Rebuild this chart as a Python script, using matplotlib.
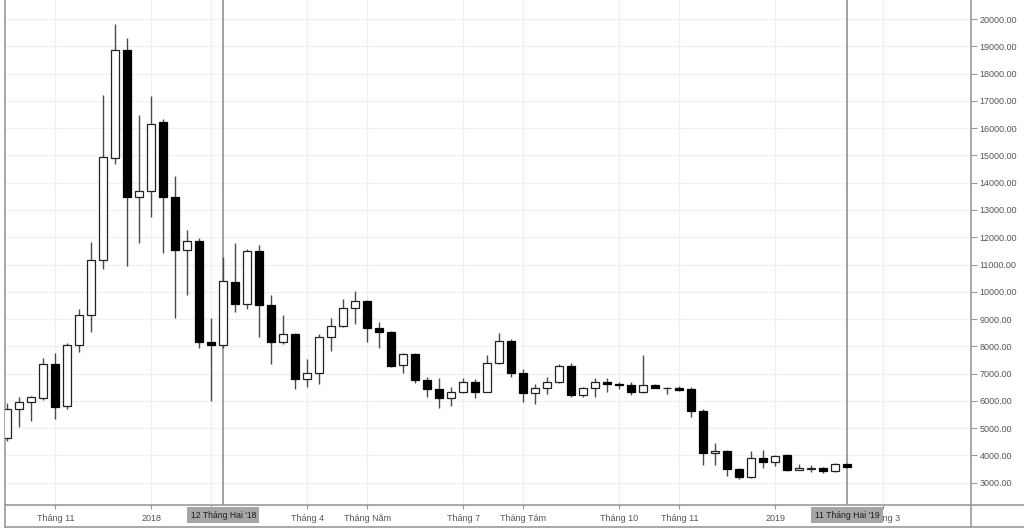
import numpy as np
import pandas as pd
import matplotlib
matplotlib.use("Agg")
import matplotlib.pyplot as plt
import matplotlib.dates as mdates
import matplotlib.transforms as mtransforms
from matplotlib.lines import Line2D

plt.rcParams['font.family'] = ['Liberation Sans', 'DejaVu Sans']

# weekly candles (Monday), BTC Oct 2017 - Feb 2019
weeks = pd.date_range('2017-10-09', periods=71, freq='7D')

opens = np.array([4630, 5690, 5950, 6120, 7340, 5820, 8040, 9140, 11170, 14890,
                  18860, 13490, 13690, 16210, 13460, 11520, 11850, 8170, 8040, 10360,
                  9560, 11500, 9500, 8170, 8460, 6800, 7010, 8350, 8760, 9400,
                  9660, 8680, 8510, 7320, 7710, 6770, 6430, 6120, 6340, 6700,
                  6340, 7380, 8210, 7010, 6280, 6460, 6680, 7290, 6220, 6460,
                  6700, 6620, 6590, 6340, 6590, 6470, 6480, 6450, 5640, 4080,
                  4160, 3500, 3200, 3920, 3770, 4000, 3470, 3520, 3530, 3440,
                  3680])
highs = np.array([5910, 6150, 6180, 7560, 7770, 8130, 9360, 11810, 17210, 19820,
                  19290, 16480, 17180, 16330, 14260, 12270, 11960, 9050, 11290, 11780,
                  11570, 11720, 9880, 9150, 8500, 7530, 8440, 9030, 9740, 10030,
                  9700, 8880, 8560, 7750, 7750, 6890, 6850, 6500, 6830, 6790,
                  7680, 8500, 8260, 7160, 6610, 6870, 7340, 7400, 6520, 6830,
                  6830, 6700, 6700, 7680, 6620, 6500, 6550, 6500, 5700, 4450,
                  4200, 3540, 4160, 4200, 4020, 4050, 3680, 3650, 3560, 3710,
                  3700])
lows = np.array([4540, 5050, 5270, 6030, 5320, 5690, 7800, 8540, 10820, 14670,
                 10960, 11780, 12750, 11410, 9030, 9880, 7950, 6000, 7950, 9270,
                 9360, 8330, 7340, 8090, 6440, 6500, 6620, 7840, 8700, 8820,
                 8170, 7930, 7250, 7030, 6650, 6130, 5750, 5800, 6280, 6100,
                 6320, 7350, 6890, 5970, 5890, 6250, 6650, 6130, 6150, 6130,
                 6340, 6440, 6220, 6300, 6460, 6250, 6380, 5420, 3650, 3650,
                 3250, 3140, 3190, 3550, 3620, 3440, 3450, 3410, 3370, 3380,
                 3580])
closes = np.array([5690, 5950, 6140, 7340, 5790, 8040, 9140, 11170, 14950, 18860,
                   13490, 13690, 16150, 13460, 11520, 11850, 8170, 8040, 10380, 9560,
                   11500, 9500, 8170, 8450, 6800, 7010, 8350, 8760, 9400, 9660,
                   8680, 8510, 7290, 7710, 6770, 6430, 6120, 6340, 6700, 6340,
                   7380, 8210, 7010, 6300, 6460, 6680, 7290, 6220, 6460, 6700,
                   6630, 6580, 6340, 6590, 6480, 6490, 6410, 5640, 4080, 4160,
                   3500, 3200, 3920, 3770, 3970, 3470, 3530, 3530, 3440, 3680,
                   3590])

tick_dates = ['2017-11-06', '2018-01-01', '2018-02-05', '2018-04-02', '2018-05-07',
              '2018-07-02', '2018-08-06', '2018-10-01', '2018-11-05', '2018-12-31',
              '2019-03-04']
tick_labels = ['Tháng 11', '2018', '', 'Tháng 4', 'Tháng Năm', 'Tháng 7',
               'Tháng Tám', 'Tháng 10', 'Tháng 11', '2019', 'Tháng 3']
y_ticks = list(range(3000, 20001, 1000))

marker_dates = ['2018-02-12', '2019-02-11']
marker_labels = ["12 Tháng Hai '18", "11 Tháng Hai '19"]

x = mdates.date2num(weeks)
up = closes >= opens

fig = plt.figure(figsize=(10.24, 5.29), dpi=100)
ax = fig.add_axes([5/1024, 24/529, 966/1024, 505/529])

ax.vlines(x, lows, highs, color='#4a4a4a', lw=1, zorder=2)
ax.bar(x[up], (closes - opens)[up], bottom=opens[up], width=4.5,
       color='white', edgecolor='#222222', lw=0.9, zorder=3)
ax.bar(x[~up], (closes - opens)[~up], bottom=opens[~up], width=4.5,
       color='black', edgecolor='black', lw=0.9, zorder=3)

ax.set_xlim(x[0] - 1.35, x[0] + 562.2)
ax.set_ylim(2183, 20697)

ax.set_xticks(mdates.date2num(pd.to_datetime(tick_dates)))
ax.set_xticklabels(tick_labels)
ax.yaxis.tick_right()
ax.set_yticks(y_ticks)
ax.set_yticklabels([f"{v:.2f}" for v in y_ticks])
ax.tick_params(axis='x', length=3, color='#999999', labelsize=6.5,
               labelcolor='#555555', pad=3.5)
ax.tick_params(axis='y', length=4, color='#999999', labelsize=6.5,
               labelcolor='#555555', pad=2)

ax.grid(color='#edf0f5', lw=0.9)
ax.set_axisbelow(True)
ax.spines['top'].set_visible(False)
for s in ['left', 'right', 'bottom']:
    ax.spines[s].set_color('#999999')
    ax.spines[s].set_linewidth(1.2)

# frame pieces outside the plot area
lc = '#999999'
fig.add_artist(Line2D([971/1024, 1], [24/529, 24/529], color=lc, lw=1.2))
fig.add_artist(Line2D([5/1024, 1], [2.5/529, 2.5/529], color=lc, lw=1.2))
fig.add_artist(Line2D([5/1024, 5/1024], [2.5/529, 24/529], color=lc, lw=1.2))
fig.add_artist(Line2D([971/1024, 971/1024], [2.5/529, 24/529], color=lc, lw=1.2))

# crosshair markers
trans = mtransforms.blended_transform_factory(ax.transData, fig.transFigure)
for d, lab in zip(marker_dates, marker_labels):
    xd = mdates.date2num(pd.Timestamp(d))
    ax.axvline(xd, color='#a0a0a0', lw=1.4, zorder=1.5)
    ax.text(xd, (529 - 515) / 529, lab, transform=trans, ha='center', va='center',
            fontsize=6.2, color='#1e1e1e', zorder=10, clip_on=False,
            bbox=dict(boxstyle='square,pad=0.4', fc='#a6a6a6', ec='none'))

fig.savefig('out.png', dpi=100)
